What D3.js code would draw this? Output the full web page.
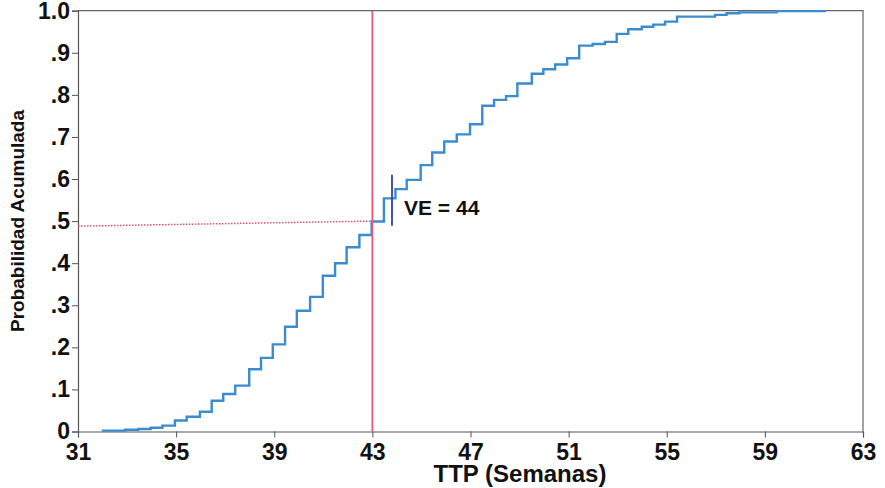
<!DOCTYPE html>
<html>
<head>
<meta charset="utf-8">
<script src="https://cdn.jsdelivr.net/npm/d3@7"></script>
<style>
  html, body { margin: 0; padding: 0; background: #fff; }
  svg { display: block; font-family: "Liberation Sans", Arial, sans-serif; }
</style>
</head>
<body>
<svg id="chart" width="885" height="488"></svg>
<script>
// Empirical cumulative distribution of time to peak (weeks)
const stepWeeks = [31.97, 32.92, 33.46, 33.96, 34.44, 34.95, 35.43, 35.97, 36.45, 36.92,
                   37.41, 37.98, 38.46, 38.94, 39.44, 39.92, 40.46, 40.98, 41.48, 41.95,
                   42.47, 42.97, 43.47, 43.94, 44.40, 44.97, 45.44, 45.93, 46.44, 46.98,
                   47.48, 47.96, 48.45, 48.91, 49.50, 49.97, 50.45, 50.94, 51.43, 51.98,
                   52.48, 52.96, 53.43, 53.98, 54.45, 54.93, 55.42, 56.97, 57.44, 57.96,
                   59.48];
const stepProb  = [0.002, 0.004, 0.006, 0.009, 0.014, 0.026, 0.035, 0.047, 0.073, 0.089,
                   0.109, 0.148, 0.175, 0.207, 0.249, 0.287, 0.320, 0.370, 0.400, 0.438,
                   0.467, 0.499, 0.554, 0.576, 0.598, 0.633, 0.663, 0.689, 0.706, 0.730,
                   0.774, 0.788, 0.797, 0.827, 0.850, 0.861, 0.872, 0.887, 0.917, 0.921,
                   0.926, 0.945, 0.956, 0.962, 0.967, 0.974, 0.986, 0.990, 0.994, 0.996,
                   0.999];
const curveEndWeek = 61.49;

const xTicks = [31, 35, 39, 43, 47, 51, 55, 59, 63];
const yTicks = [0, 0.1, 0.2, 0.3, 0.4, 0.5, 0.6, 0.7, 0.8, 0.9, 1.0];
const yTickLabels = ["0", ".1", ".2", ".3", ".4", ".5", ".6", ".7", ".8", ".9", "1.0"];

// Median reference lines and the VE marker
const medianWeek = 43;
const medianGuideStart = [31, 0.488];
const medianGuideEnd = [43, 0.5];
const veWeek = 43.8;
const veProbRange = [0.489, 0.61];

const svg = d3.select("#chart");
const plotLeft = 78, plotRight = 863, plotTop = 10.7, plotBottom = 431.5;

const x = d3.scaleLinear().domain([31, 63]).range([plotLeft, plotRight]);
const y = d3.scaleLinear().domain([0, 1]).range([plotBottom, plotTop]);

// frame (top and right borders)
svg.append("path")
  .attr("d", `M${plotLeft},${plotTop}H${plotRight}V${plotBottom}`)
  .attr("fill", "none").attr("stroke", "#666").attr("stroke-width", 1.2);

// y axis
const yAxis = svg.append("g")
  .attr("transform", `translate(${plotLeft},0)`)
  .call(d3.axisLeft(y).tickValues(yTicks).tickSize(6).tickPadding(2)
        .tickFormat((d, i) => yTickLabels[i]));
yAxis.select(".domain").attr("stroke", "#555").attr("stroke-width", 1.2);
yAxis.selectAll(".tick line").attr("stroke", "#555");
yAxis.selectAll("text")
  .attr("font-family", "'Liberation Sans', Arial, sans-serif")
  .attr("font-size", 23).attr("font-weight", "bold").attr("fill", "#111");

// x axis
const xAxis = svg.append("g")
  .attr("transform", `translate(0,${plotBottom})`)
  .call(d3.axisBottom(x).tickValues(xTicks).tickSize(6).tickPadding(6)
        .tickFormat(d3.format("d")));
xAxis.select(".domain").attr("stroke", "#555").attr("stroke-width", 1.2);
xAxis.selectAll(".tick line").attr("stroke", "#555");
xAxis.selectAll("text")
  .attr("font-family", "'Liberation Sans', Arial, sans-serif")
  .attr("font-size", 23).attr("font-weight", "bold").attr("fill", "#111");

// axis titles
svg.append("text")
  .attr("transform", `translate(24,221) rotate(-90)`)
  .attr("text-anchor", "middle")
  .attr("font-size", 19).attr("font-weight", "bold").attr("fill", "#111")
  .text("Probabilidad Acumulada");

svg.append("text")
  .attr("x", 520).attr("y", 482)
  .attr("text-anchor", "middle")
  .attr("font-size", 24).attr("font-weight", "bold").attr("fill", "#111")
  .text("TTP (Semanas)");

// dotted guide to the median
svg.append("line")
  .attr("x1", x(medianGuideStart[0])).attr("y1", y(medianGuideStart[1]))
  .attr("x2", x(medianGuideEnd[0])).attr("y2", y(medianGuideEnd[1]))
  .attr("stroke", "#e0506a").attr("stroke-width", 1.5)
  .attr("stroke-dasharray", "1.5,1.5");

// step curve
const pts = stepWeeks.map((w, i) => [w, stepProb[i]]);
pts.push([curveEndWeek, stepProb[stepProb.length - 1]]);
svg.append("path")
  .datum(pts)
  .attr("fill", "none")
  .attr("stroke", "#3a8cd0")
  .attr("stroke-width", 2.4)
  .attr("stroke-linejoin", "miter")
  .attr("d", d3.line().x(d => x(d[0])).y(d => y(d[1])).curve(d3.curveStepAfter));

// vertical median line
svg.append("line")
  .attr("x1", x(medianWeek)).attr("x2", x(medianWeek))
  .attr("y1", y(1)).attr("y2", y(0))
  .attr("stroke", "#e8587a").attr("stroke-width", 1.8);

// VE marker and label
svg.append("line")
  .attr("x1", x(veWeek)).attr("x2", x(veWeek))
  .attr("y1", y(veProbRange[0])).attr("y2", y(veProbRange[1]))
  .attr("stroke", "#2f3fb3").attr("stroke-width", 1.8);

svg.append("text")
  .attr("x", x(veWeek) + 12).attr("y", 215)
  .attr("font-size", 21).attr("font-weight", "bold").attr("fill", "#111")
  .text(`VE = ${Math.round(veWeek)}`);
</script>
</body>
</html>
